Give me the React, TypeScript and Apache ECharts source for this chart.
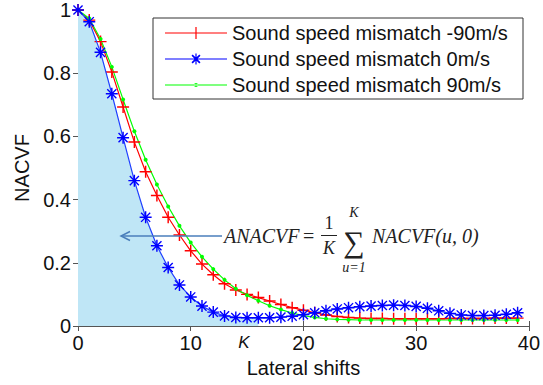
import React, { useEffect, useRef } from "react";
import * as echarts from "echarts";

const shifts = [0,1,2,3,4,5,6,7,8,9,10,11,12,13,14,15,16,17,18,19,20,21,22,23,24,25,26,27,28,29,30,31,32,33,34,35,36,37,38,39];
const redValues = [1,0.968,0.9,0.804,0.693,0.582,0.488,0.413,0.344,0.288,0.238,0.196,0.162,0.134,0.114,0.1,0.09,0.079,0.068,0.058,0.05,0.042,0.035,0.03,0.027,0.025,0.024,0.024,0.023,0.023,0.023,0.023,0.023,0.024,0.024,0.024,0.024,0.025,0.025,0.025];
const blueValues = [1,0.963,0.866,0.735,0.596,0.46,0.344,0.254,0.185,0.13,0.092,0.063,0.044,0.032,0.027,0.026,0.026,0.026,0.028,0.031,0.036,0.042,0.048,0.054,0.058,0.061,0.063,0.065,0.066,0.065,0.062,0.056,0.048,0.04,0.035,0.033,0.033,0.034,0.037,0.042];
const greenValues = [1,0.973,0.908,0.82,0.717,0.616,0.526,0.448,0.378,0.317,0.264,0.219,0.18,0.146,0.118,0.097,0.08,0.064,0.052,0.041,0.033,0.027,0.023,0.021,0.02,0.019,0.019,0.019,0.019,0.019,0.019,0.019,0.019,0.019,0.019,0.019,0.019,0.019,0.019,0.019];
const fillEndIndex = 16;
const seriesNames = ["Sound speed mismatch -90m/s", "Sound speed mismatch 0m/s", "Sound speed mismatch 90m/s"];
const xTicks = { min: 0, max: 40, interval: 10 };
const yTicks = { min: 0, max: 1, interval: 0.2 };

const PLUS = "path://M0,4.4H10V5.6H0Z M4.4,0H5.6V10H4.4Z";
const STAR = "path://M0,4.4H10V5.6H0Z M4.4,0H5.6V10H4.4Z M0.8,1.6L1.6,0.8L9.2,8.4L8.4,9.2Z M8.4,0.8L9.2,1.6L1.6,9.2L0.8,8.4Z";

const LEG_PLUS = "path://M0,5.4H62V6.6H0Z M30.4,0H31.6V12H30.4Z";
const LEG_STAR = "path://M0,5.4H62V6.6H0Z M30.4,0.5H31.6V11.5H30.4Z M26.5,2.7L27.7,1.5L35.5,9.3L34.3,10.5Z M34.3,1.5L35.5,2.7L27.7,10.5L26.5,9.3Z";
const LEG_DOT = "path://M0,5.4H62V6.6H0Z M29,6A2,2 0 1 0 33,6A2,2 0 1 0 29,6Z";

const SANS = '"Liberation Sans", Arial, sans-serif';
const SERIF = '"Liberation Serif", "Times New Roman", serif';

export default function App() {
  const ref = useRef<HTMLDivElement>(null);
  useEffect(() => {
    if (!ref.current) return;
    const chart = echarts.init(ref.current, undefined, { renderer: "svg" });
    const pairs = (vals: number[]) => vals.map((v, i) => [shifts[i], v]);
    const axisLine = { show: true, lineStyle: { color: "#555", width: 1 } };
    const axisTick = { show: true, inside: true, length: 5, lineStyle: { color: "#555" } };
    chart.setOption({
      animation: false,
      backgroundColor: "#fff",
      grid: { left: 78, top: 10, right: 12, bottom: 59, containLabel: false },
      xAxis: [
        {
          type: "value", ...xTicks, position: "bottom",
          axisLine, axisTick, splitLine: { show: false },
          axisLabel: { color: "#111", fontSize: 20, fontFamily: SANS, margin: 7 },
          name: "Lateral shifts", nameLocation: "middle", nameGap: 27,
          nameTextStyle: { color: "#111", fontSize: 20, fontFamily: SANS },
        },
        {
          type: "value", ...xTicks, position: "top",
          axisLine, axisTick, splitLine: { show: false }, axisLabel: { show: false },
        },
      ],
      yAxis: [
        {
          type: "value", ...yTicks, position: "left",
          axisLine, axisTick, splitLine: { show: false },
          axisLabel: { color: "#111", fontSize: 20, fontFamily: SANS, margin: 7 },
          name: "NACVF", nameLocation: "middle", nameGap: 45, nameRotate: 90,
          nameTextStyle: { color: "#111", fontSize: 20, fontFamily: SANS },
        },
        {
          type: "value", ...yTicks, position: "right",
          axisLine, axisTick, splitLine: { show: false }, axisLabel: { show: false },
        },
      ],
      legend: {
        orient: "vertical", left: 165, top: 23,
        padding: 0, itemGap: 6, itemWidth: 62, itemHeight: 13,
        symbolKeepAspect: true, z: 10,
        textStyle: { color: "#111", fontSize: 20, fontFamily: SANS, lineHeight: 20 },
        data: [
          { name: seriesNames[0], icon: LEG_PLUS },
          { name: seriesNames[1], icon: LEG_STAR },
          { name: seriesNames[2], icon: LEG_DOT },
        ],
      },
      series: [
        {
          name: "fill", type: "line", data: pairs(blueValues.slice(0, fillEndIndex + 1)),
          symbol: "none", lineStyle: { width: 0 }, areaStyle: { color: "#bfe6f6", opacity: 1 },
          z: 1, silent: true,
        },
        {
          name: seriesNames[0], type: "line", data: pairs(redValues),
          symbol: PLUS, symbolSize: 12, showAllSymbol: true,
          itemStyle: { color: "#ff0000", borderWidth: 0 },
          lineStyle: { color: "#ff0000", width: 1.2 }, z: 3,
        },
        {
          name: seriesNames[1], type: "line", data: pairs(blueValues),
          symbol: STAR, symbolSize: 12, showAllSymbol: true,
          itemStyle: { color: "#0000ff", borderWidth: 0 },
          lineStyle: { color: "#2040ff", width: 1.2 }, z: 4,
        },
        {
          name: seriesNames[2], type: "line", data: pairs(greenValues),
          symbol: "circle", symbolSize: 4, showAllSymbol: true,
          itemStyle: { color: "#00ff00", borderWidth: 0 },
          lineStyle: { color: "#00ff00", width: 1.2 }, z: 3,
        },
      ],
      graphic: [
        { type: "rect", shape: { x: 153, y: 18, width: 370, height: 81 }, style: { fill: "#fff", stroke: "#333", lineWidth: 1 }, z: 9 },
        { type: "line", shape: { x1: 222, y1: 236, x2: 121, y2: 236 }, style: { stroke: "#4a7ebb", lineWidth: 1.5 }, z: 10 },
        { type: "polyline", shape: { points: [[130, 231.5], [121, 236], [130, 240.5]] }, style: { stroke: "#4a7ebb", lineWidth: 1.5, fill: null }, z: 10 },
        { type: "text", x: 224, y: 236, style: { text: "ANACVF", font: `italic 20px ${SERIF}`, fill: "#222", verticalAlign: "middle" }, z: 10 },
        { type: "text", x: 303, y: 236, style: { text: "=", font: `20px ${SERIF}`, fill: "#222", verticalAlign: "middle" }, z: 10 },
        { type: "text", x: 329, y: 223, style: { text: "1", font: `18px ${SERIF}`, fill: "#222", align: "center", verticalAlign: "middle" }, z: 10 },
        { type: "line", shape: { x1: 321, y1: 235.5, x2: 337, y2: 235.5 }, style: { stroke: "#222", lineWidth: 1 }, z: 10 },
        { type: "text", x: 329, y: 248, style: { text: "K", font: `italic 18px ${SERIF}`, fill: "#222", align: "center", verticalAlign: "middle" }, z: 10 },
        { type: "text", x: 354, y: 241, style: { text: "\u2211", font: `30px ${SERIF}`, fill: "#222", align: "center", verticalAlign: "middle" }, z: 10 },
        { type: "text", x: 354, y: 212, style: { text: "K", font: `italic 14px ${SERIF}`, fill: "#222", align: "center", verticalAlign: "middle" }, z: 10 },
        { type: "text", x: 354, y: 267, style: { text: "u=1", font: `italic 14px ${SERIF}`, fill: "#222", align: "center", verticalAlign: "middle" }, z: 10 },
        { type: "text", x: 372, y: 236, style: { text: "NACVF(u, 0)", font: `italic 20px ${SERIF}`, fill: "#222", verticalAlign: "middle" }, z: 10 },
        { type: "text", x: 244, y: 342, style: { text: "K", font: `italic 17px ${SANS}`, fill: "#111", align: "center", verticalAlign: "middle" }, z: 10 },
      ],
    });
    return () => chart.dispose();
  }, []);
  return <div ref={ref} style={{ position: "absolute", left: 0, top: 0, width: 543, height: 385 }} />;
}
